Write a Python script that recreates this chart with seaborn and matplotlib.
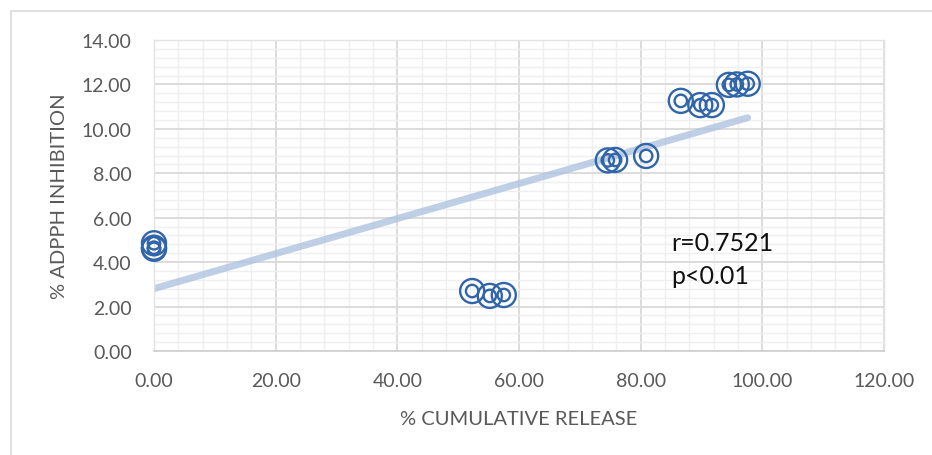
import matplotlib
matplotlib.use("Agg")
import matplotlib.pyplot as plt
from matplotlib.patches import Rectangle
from matplotlib.ticker import MultipleLocator, FormatStrFormatter
import numpy as np
import pandas as pd
import seaborn as sns

# % cumulative release vs % ADPPH inhibition
cumulative_release = [0.0, 0.0, 0.0, 52.3, 55.2, 57.5, 74.6, 75.8, 80.9,
                      86.6, 89.8, 91.7, 94.5, 95.8, 97.6]
adpph_inhibition = [4.85, 4.60, 4.65, 2.70, 2.48, 2.52, 8.58, 8.60, 8.78,
                    11.26, 11.07, 11.07, 11.98, 12.00, 12.03]
r_label = "r=0.7521"
p_label = "p<0.01"

df = pd.DataFrame({"release": cumulative_release, "inhibition": adpph_inhibition})

sns.set_theme(style="white")
plt.rcParams["font.family"] = ["Lato", "DejaVu Sans"]

fig = plt.figure(figsize=(9.32, 4.56), dpi=100)
ax = fig.add_axes([154 / 932, 1 - 352 / 456, 730 / 932, 311 / 456])

# chart-area frame
fig.patches.append(Rectangle((11 / 932, -0.1), 1.2, 1 - 12 / 456 + 0.1,
                             transform=fig.transFigure, fill=False,
                             edgecolor="#D9D9D9", linewidth=1.2))

ax.set_xlim(0, 120)
ax.set_ylim(0, 14)
ax.xaxis.set_major_locator(MultipleLocator(20))
ax.xaxis.set_minor_locator(MultipleLocator(4))
ax.yaxis.set_major_locator(MultipleLocator(2))
ax.yaxis.set_minor_locator(MultipleLocator(0.4))
ax.xaxis.set_major_formatter(FormatStrFormatter("%.2f"))
ax.yaxis.set_major_formatter(FormatStrFormatter("%.2f"))
ax.grid(which="major", color="#D9D9D9", linewidth=1.3, zorder=0)
ax.grid(which="minor", color="#EFEFEF", linewidth=1.0, zorder=0)
ax.set_axisbelow(True)
for side in ["top", "right", "left"]:
    ax.spines[side].set_color("#E3E3E3")
    ax.spines[side].set_linewidth(1.0)
ax.spines["bottom"].set_color("#D0D0D0")
ax.spines["bottom"].set_linewidth(1.3)

ax.tick_params(which="both", length=0, labelsize=14, labelcolor="#595959")
ax.tick_params(axis="x", pad=15)
ax.tick_params(axis="y", pad=16)

# linear trend line
sns.regplot(data=df, x="release", y="inhibition", ax=ax, ci=None,
            scatter=False, truncate=True,
            line_kws=dict(color="#AFC3E0", linewidth=5, alpha=0.8,
                          solid_capstyle="round", zorder=2))

# double-ring markers
for size in (300, 80):
    sns.scatterplot(data=df, x="release", y="inhibition", ax=ax, s=size,
                    marker="o", facecolor="none", edgecolor="#3165A9",
                    linewidth=1.7, zorder=3, clip_on=False)

ax.text(85.0, 4.9, r_label, fontsize=18, color="#111111", va="center", ha="left")
ax.text(85.0, 3.4, p_label, fontsize=18, color="#111111", va="center", ha="left")

ax.set_xlabel("% CUMULATIVE RELEASE", fontsize=14.5, color="#595959", labelpad=15)
ax.set_ylabel("% ADPPH INHIBITION", fontsize=14.5, color="#595959", labelpad=10)

fig.savefig("out.png", dpi=100)
